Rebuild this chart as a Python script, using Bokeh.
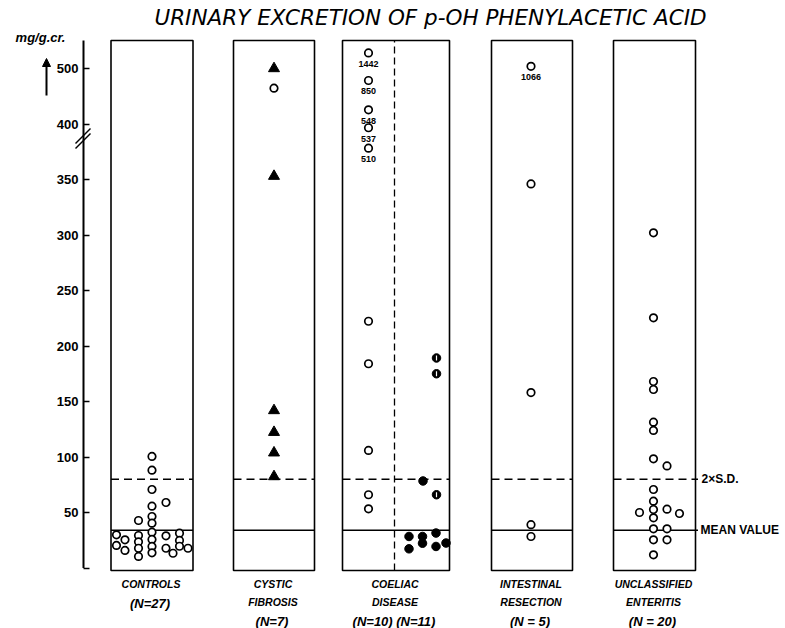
import math
from bokeh.plotting import figure
from bokeh.models import Range1d, FixedTicker, Label, Arrow, NormalHead
from bokeh.core.properties import value
from bokeh.embed import file_html
from bokeh.resources import INLINE

# ---------------- data ----------------
categories = ["CONTROLS", "CYSTIC FIBROSIS", "COELIAC DISEASE", "INTESTINAL RESECTION", "UNCLASSIFIED ENTERITIS"]
cat_line1 = ["CONTROLS", "CYSTIC", "COELIAC", "INTESTINAL", "UNCLASSIFIED"]
cat_line2 = ["", "FIBROSIS", "DISEASE", "RESECTION", "ENTERITIS"]
cat_n = ["(N=27)", "(N=7)", "(N=10) (N=11)", "(N = 5)", "(N = 20)"]

controls_values = [100.5, 88.1, 70.7, 55.7, 46.4, 40.4, 59.0, 42.8,
                   29.9, 20.3, 25.4, 15.8, 29.3, 23.6, 17.8, 10.4,
                   32.3, 25.7, 19.4, 13.7, 29.0, 17.8, 13.3, 31.4, 24.8, 19.6, 17.8]
controls_offsets = [0, 0, 0, 0, 0, 0, 14, -13.5,
                    -35.5, -35.5, -27, -27, -13.5, -13.5, -13.5, -13.5,
                    0, 0, 0, 0, 14, 14, 21, 27.5, 27.5, 27.5, 36]

cf_values = [500, 464.5, 353, 141.9, 122.3, 103.8, 82.4]
cf_kind = ["tri", "open", "tri", "tri", "tri", "tri", "tri"]

coeliac_a_values = [528, 478.4, 425.6, 396.6, 378.2, 222.3, 184.0, 105.9, 66.0, 53.3]
coeliac_a_labels = ["1442", "850", "548", "537", "510", "", "", "", "", ""]

coeliac_b_values = [189.2, 175.0, 66.0, 78.4, 28.4, 17.3, 28.4, 22.3, 31.5, 19.4, 22.5]
coeliac_b_offsets = [40.5, 40.5, 40.5, 27, 13, 13, 26.5, 26.5, 40, 40, 50]
coeliac_b_kind = ["half", "half", "half", "full", "full", "full", "full", "full", "full", "full", "full"]

intestinal_values = [504, 346, 158, 39.0, 28.4]
intestinal_labels = ["1066", "", "", "", ""]

unclass_values = [302, 225.4, 168, 160.8, 131.4, 123.9, 98.4, 92.0, 70.7, 60.2,
                  52.7, 45.2, 50.0, 53.0, 49.1, 35.3, 35.3, 25.4, 25.4, 11.9]
unclass_offsets = [-1, -1, -1, -1, -1, -1, -1, 12.5, -1, -1,
                   -1, -1, -15, 12.5, 25, -1, 12.5, -1, 12.5, -1]

mean_value = 34
sd2_value = 80

y_ticks = [0, 50, 100, 150, 200, 250, 300, 350, 400, 500]

# ---------------- layout constants ----------------
panel_center = [151.5, 273.5, 395.5, 531.5, 654.0]
panel_half = [41, 40.5, 53.5, 40.5, 41]
coeliac_divider = 394
coeliac_a_offset = -27.5
intestinal_offset = -1
axis_x = 83
box_bottom, box_top = -2.25, 475.2


def disp(v):
    """broken axis: linear to 400, half scale above"""
    return v if v <= 400 else 400 + (v - 400) / 2.0


def img_y(py):
    return (567.5 - py) / 1.11


W, H = 785, 628
p = figure(width=W, height=H, output_backend="svg", toolbar_location=None,
           x_range=Range1d(0, W), y_range=Range1d(img_y(H), img_y(0)),
           x_axis_type=None, min_border_left=0, min_border_right=0,
           min_border_top=0, min_border_bottom=0)
p.grid.visible = False
p.outline_line_color = None
p.background_fill_color = "white"
p.border_fill_color = "white"

ax = p.yaxis[0]
ax.fixed_location = axis_x
ax.ticker = FixedTicker(ticks=[disp(t) for t in y_ticks])
ax.major_label_overrides = {disp(t): ("" if t == 0 else str(t)) for t in y_ticks}
ax.axis_line_color = None
ax.major_tick_in = 6
ax.major_tick_out = 0
ax.major_tick_line_width = 1.5
ax.major_tick_line_color = "black"
ax.minor_tick_line_color = None
ax.major_label_standoff = 5
ax.major_label_text_font = "Liberation Sans"
ax.major_label_text_font_style = "bold"
ax.major_label_text_font_size = "13px"
ax.major_label_text_color = "black"

# axis line
p.segment(x0=[axis_x], x1=[axis_x], y0=[0], y1=[box_top], line_color="black", line_width=2)

# panels
lefts = [c - h for c, h in zip(panel_center, panel_half)]
rights = [c + h for c, h in zip(panel_center, panel_half)]
p.quad(left=lefts, right=rights, bottom=box_bottom, top=box_top,
       fill_color=None, line_color="black", line_width=1.6)

# mean and 2 SD lines
seg_right = rights[:-1] + [rights[-1] + 2.5]
p.segment(x0=lefts, x1=seg_right, y0=sd2_value, y1=sd2_value,
          line_color="black", line_width=1.4, line_dash="8 5")
p.segment(x0=lefts, x1=seg_right, y0=mean_value, y1=mean_value,
          line_color="black", line_width=1.4)

# coeliac divider
p.segment(x0=[coeliac_divider], x1=[coeliac_divider], y0=[box_bottom], y1=[box_top],
          line_color="black", line_width=1.3, line_dash="7 4")

# ---------- marks ----------
open_x, open_y = [], []
tri_x, tri_y = [], []
full_x, full_y = [], []
half_x, half_y = [], []
lab_x, lab_y, lab_t = [], [], []

for v, o in zip(controls_values, controls_offsets):
    open_x.append(panel_center[0] + o); open_y.append(disp(v))

for v, k in zip(cf_values, cf_kind):
    if k == "tri":
        tri_x.append(panel_center[1]); tri_y.append(disp(v))
    else:
        open_x.append(panel_center[1]); open_y.append(disp(v))

for v, lab in zip(coeliac_a_values, coeliac_a_labels):
    x = panel_center[2] + coeliac_a_offset
    open_x.append(x); open_y.append(disp(v))
    if lab:
        lab_x.append(x); lab_y.append(disp(v)); lab_t.append(lab)

for v, o, k in zip(coeliac_b_values, coeliac_b_offsets, coeliac_b_kind):
    x = panel_center[2] + o
    if k == "half":
        half_x.append(x); half_y.append(disp(v))
    else:
        full_x.append(x); full_y.append(disp(v))

for v, lab in zip(intestinal_values, intestinal_labels):
    x = panel_center[3] + intestinal_offset
    open_x.append(x); open_y.append(disp(v))
    if lab:
        lab_x.append(x); lab_y.append(disp(v)); lab_t.append(lab)

for v, o in zip(unclass_values, unclass_offsets):
    open_x.append(panel_center[4] + o); open_y.append(disp(v))

p.scatter(open_x, open_y, marker="circle", size=7.5, fill_color="white",
          line_color="black", line_width=1.7)
p.scatter(tri_x, tri_y, marker="triangle", size=11, fill_color="black", line_color="black")
p.scatter(full_x, full_y, marker="circle", size=8.5, fill_color="black", line_color="black")
p.scatter(half_x, half_y, marker="circle", size=8.5, fill_color="black", line_color="black")
p.scatter(half_x, half_y, marker="dash", angle=math.pi / 2, size=5,
          line_color="white", line_width=1.2)

p.text(lab_x, lab_y, text=lab_t, y_offset=11, text_align="center", text_baseline="middle",
       text_font=value("Liberation Sans"), text_font_style="bold", text_font_size="9px",
       text_color="black")

# ---------- annotations ----------
font = "Liberation Sans"
p.add_layout(Label(x=430, y=img_y(17), text="URINARY EXCRETION OF p-OH PHENYLACETIC ACID",
                   text_align="center", text_baseline="middle", text_font="DejaVu Sans",
                   text_font_style="italic", text_font_size="21.5px", text_color="black"))
p.add_layout(Label(x=40, y=img_y(37), text="mg/g.cr.", text_align="center",
                   text_baseline="middle", text_font=font, text_font_style="bold italic",
                   text_font_size="13px", text_color="black"))
p.add_layout(Arrow(x_start=46, y_start=img_y(95), x_end=46, y_end=img_y(58),
                   line_width=2, line_color="black",
                   end=NormalHead(size=8, fill_color="black", line_color="black")))
for dy in (0, 5):
    p.add_layout(Arrow(x_start=75, y_start=img_y(148 - dy), x_end=90, y_end=img_y(133 - dy),
                       line_width=1.5, line_color="black", end=None))

p.add_layout(Label(x=701, y=sd2_value, text="2×S.D.", text_align="left",
                   text_baseline="middle", text_font=font, text_font_style="bold",
                   text_font_size="12px", text_color="black"))
p.add_layout(Label(x=700, y=mean_value, text="MEAN VALUE", text_align="left",
                   text_baseline="middle", text_font=font, text_font_style="bold",
                   text_font_size="12px", text_color="black"))

for c, l1, l2, n in zip(panel_center, cat_line1, cat_line2, cat_n):
    p.add_layout(Label(x=c - 1, y=img_y(583), text=l1, text_align="center",
                       text_baseline="middle", text_font=font, text_font_style="bold italic",
                       text_font_size="10.5px", text_color="black"))
    if l2:
        p.add_layout(Label(x=c - 1, y=img_y(601), text=l2, text_align="center",
                           text_baseline="middle", text_font=font, text_font_style="bold italic",
                           text_font_size="10.5px", text_color="black"))
        ny = 621
    else:
        ny = 603
    p.add_layout(Label(x=c - 2, y=img_y(ny), text=n, text_align="center",
                       text_baseline="middle", text_font=font, text_font_style="bold italic",
                       text_font_size="13px", text_color="black"))

open("out.html", "w").write(file_html(p, INLINE))
